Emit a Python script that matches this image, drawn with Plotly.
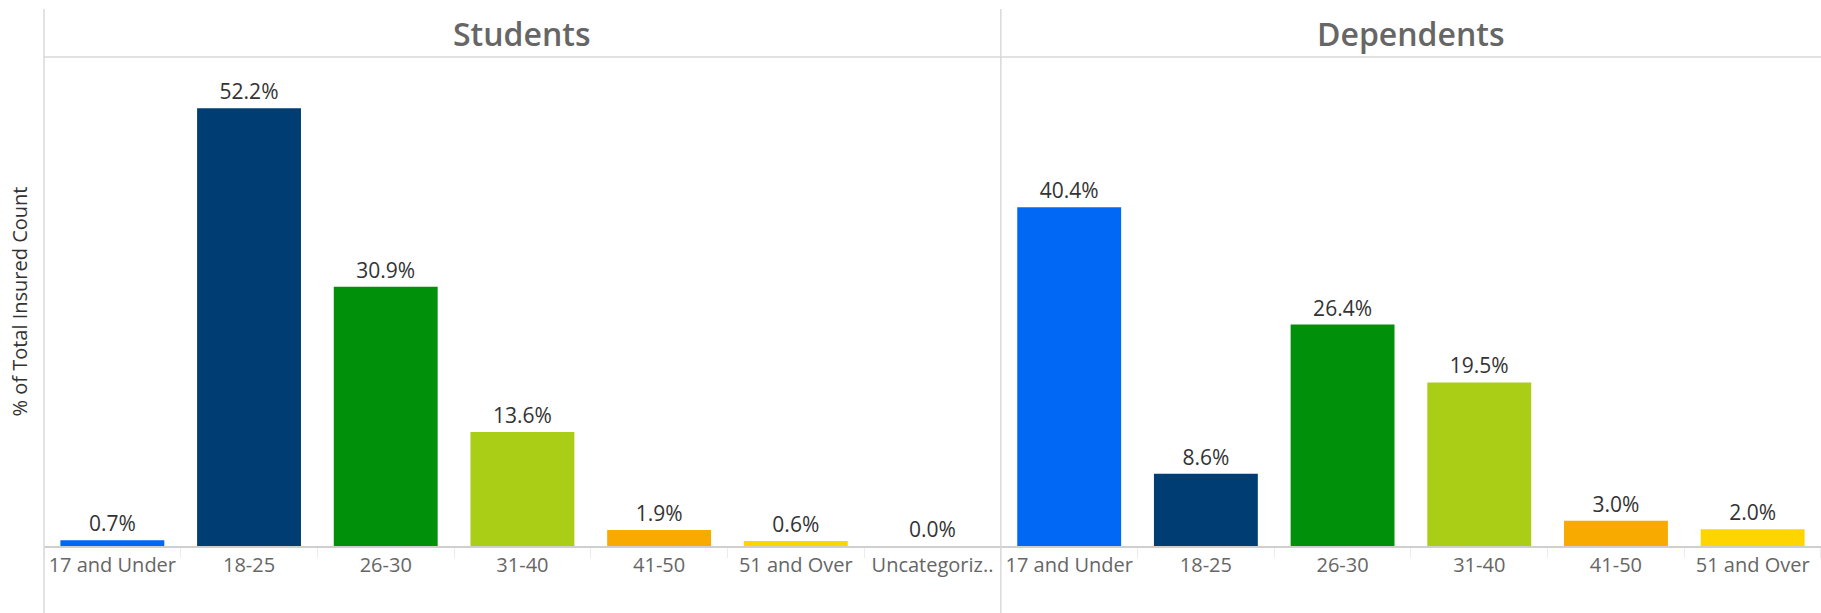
import plotly.graph_objects as go
from plotly.subplots import make_subplots

# categories and values
student_groups = ['17 and Under', '18-25', '26-30', '31-40', '41-50', '51 and Over', 'Uncategorized']
student_ticks = ['17 and Under', '18-25', '26-30', '31-40', '41-50', '51 and Over', 'Uncategoriz..']
student_pct = [0.7, 52.2, 30.9, 13.6, 1.9, 0.6, 0.0]

dependent_groups = ['17 and Under', '18-25', '26-30', '31-40', '41-50', '51 and Over']
dependent_pct = [40.4, 8.6, 26.4, 19.5, 3.0, 2.0]

panels = ['Students', 'Dependents']

AGE_COLORS = {
    '17 and Under': '#0068F4',
    '18-25': '#003D72',
    '26-30': '#00900A',
    '31-40': '#AACD16',
    '41-50': '#F8AA00',
    '51 and Over': '#FFD500',
    'Uncategorized': '#BBBBBB',
}

FONT = 'Open Sans, Noto Sans, sans-serif'
GRID = '#d9d9d9'

W, H = 1821, 613
M_L, M_R, M_T, M_B = 44, 0, 57, 67
plot_h = H - M_T - M_B

fig = make_subplots(rows=1, cols=2, column_widths=[7, 6], horizontal_spacing=0, shared_yaxes=True)


def bar_trace(groups, values):
    return go.Bar(
        x=groups,
        y=values,
        marker_color=[AGE_COLORS[g] for g in groups],
        marker_line_width=0,
        texttemplate='%{y:.1f}%',
        textposition='outside',
        cliponaxis=False,
        textfont=dict(family=FONT, size=21, color='#333333'),
        showlegend=False,
    )


fig.add_trace(bar_trace(student_groups, student_pct), row=1, col=1)
fig.add_trace(bar_trace(dependent_groups, dependent_pct), row=1, col=2)

axis_style = dict(
    type='category',
    showgrid=False,
    zeroline=False,
    showline=True,
    linecolor='#cfcfcf',
    linewidth=2,
    ticks='outside',
    tickson='boundaries',
    ticklen=10,
    tickcolor='#ececec',
    tickwidth=1,
    tickfont=dict(family=FONT, size=20, color='#666666'),
    fixedrange=True,
)
fig.update_xaxes(**axis_style)
fig.update_xaxes(tickvals=student_groups, ticktext=student_ticks, row=1, col=1)
fig.update_yaxes(range=[0, 58.3], showticklabels=False, showgrid=False, zeroline=False,
                 showline=False, ticks='', fixedrange=True)

# header band and pane dividers
top = 1 + (M_T - 9) / plot_h
bottom = -M_B / plot_h
div_x = 7 / 13
for x in (0, div_x):
    fig.add_shape(type='line', xref='paper', yref='paper', x0=x, x1=x, y0=bottom, y1=top,
                  line=dict(color=GRID, width=1.5))
fig.add_shape(type='line', xref='paper', yref='paper', x0=0, x1=1, y0=1, y1=1,
              line=dict(color=GRID, width=1.5))

for i, name in enumerate(panels):
    fig.add_annotation(
        text=name,
        xref='x domain' if i == 0 else 'x2 domain', yref='paper',
        x=0.5, y=1 + (M_T - 33) / plot_h,
        xanchor='center', yanchor='middle', showarrow=False,
        font=dict(family=FONT, size=32, color='#666666', weight=600),
    )

fig.add_annotation(
    text='% of Total Insured Count',
    xref='paper', yref='paper',
    x=(19 - M_L) / (W - M_L - M_R), y=0.5,
    xanchor='center', yanchor='middle', textangle=-90, showarrow=False,
    font=dict(family=FONT, size=20, color='#333333'),
)

fig.update_layout(
    width=W, height=H,
    margin=dict(l=M_L, r=M_R, t=M_T, b=M_B),
    bargap=0.24,
    plot_bgcolor='white',
    paper_bgcolor='white',
    font=dict(family=FONT),
)

# drop the browser's default 8px body margin so the figure fills the window
fig.write_html('out.html', config={'displayModeBar': False},
               post_script="document.body.style.margin='0';")
